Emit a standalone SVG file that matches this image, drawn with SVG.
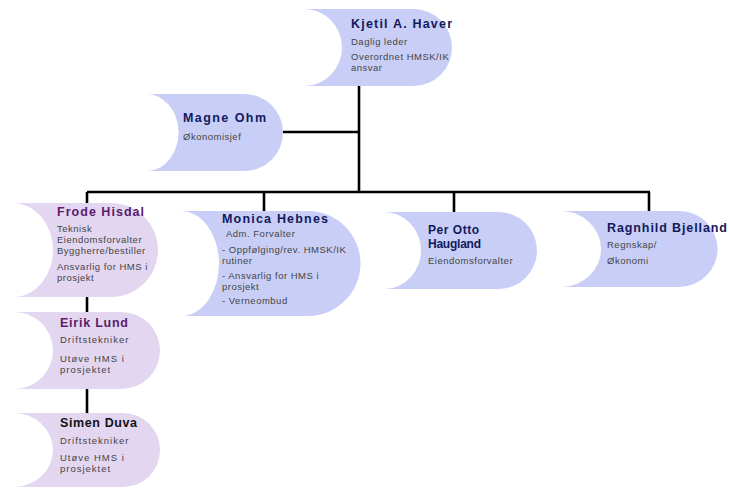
<svg xmlns="http://www.w3.org/2000/svg" width="729" height="488" viewBox="0 0 729 488">
<style>
.blue{fill:#c8cef6}
.purple{fill:#e3d6f1}
.name{font-family:"Liberation Sans",Arial,sans-serif;font-weight:bold;font-size:12.5px;letter-spacing:1px}
.nb{fill:#121a5c}
.np{fill:#5c1b6b}
.nk{fill:#111111}
.t{font-family:"Liberation Sans",Arial,sans-serif;font-size:9.5px;letter-spacing:0.5px;fill:#454545}
.w{letter-spacing:1px}
.c{stroke:#000;stroke-width:2.6;fill:none}
</style>
<rect width="729" height="488" fill="#fff"/>
<g id="connectors">
<path class="c" d="M359 86 V193"/>
<path class="c" d="M283 132 H359"/>
<path class="c" d="M87 192 H650"/>
<path class="c" d="M87 192 V203"/>
<path class="c" d="M264 192 V211"/>
<path class="c" d="M454 192 V212"/>
<path class="c" d="M649 192 V211"/>
<path class="c" d="M87 297 V312"/>
<path class="c" d="M87 389 V413"/>
</g>
<g id="kjetil">
<path class="blue" d="M303 9 H413.5 A38.5 38.5 0 0 1 413.5 86 H305 A38 38.5 0 0 0 303 9 Z"/>
<text class="name nb" x="351" y="28" textLength="102">Kjetil A. Haver</text>
<text class="t" x="351" y="45">Daglig leder</text>
<text class="t" x="351" y="60">Overordnet HMSK/IK</text>
<text class="t" x="351" y="71">ansvar</text>
</g>
<g id="magne">
<path class="blue" d="M145 94 H244.5 A38.5 38.5 0 0 1 244.5 171 H148 A32 38.5 0 0 0 145 94 Z"/>
<text class="name nb" x="183" y="122" textLength="84">Magne Ohm</text>
<text class="t" x="183" y="140">Økonomisjef</text>
</g>
<g id="frode">
<path class="purple" d="M12 203 H111 A47 47 0 0 1 111 297 H14 A40 47 0 0 0 12 203 Z"/>
<text class="name np" x="57" y="216" textLength="88">Frode Hisdal</text>
<text class="t" x="57" y="232">Teknisk</text>
<text class="t" x="57" y="243">Eiendomsforvalter</text>
<text class="t" x="57" y="254">Byggherre/bestiller</text>
<text class="t" x="57" y="270">Ansvarlig for HMS i</text>
<text class="t" x="57" y="281">prosjekt</text>
</g>
<g id="monica">
<path class="blue" d="M180 211 H308 A52.5 52.5 0 0 1 308 316 H182 A38 52.5 0 0 0 180 211 Z"/>
<text class="name nb" x="222" y="223" textLength="107">Monica Hebnes</text>
<text class="t" x="226" y="237">Adm. Forvalter</text>
<text class="t" x="222" y="253">- Oppfølging/rev. HMSK/IK</text>
<text class="t" x="222" y="264">rutiner</text>
<text class="t" x="222" y="279">- Ansvarlig for HMS i</text>
<text class="t" x="222" y="290">prosjekt</text>
<text class="t" x="222" y="304">- Verneombud</text>
</g>
<g id="perotto">
<path class="blue" d="M383 212 H498.5 A38.5 38.5 0 0 1 498.5 289 H385 A37 38.5 0 0 0 383 212 Z"/>
<text class="name nb" x="428" y="234" textLength="52" style="font-size:12px">Per Otto</text>
<text class="name nb" x="428" y="248" textLength="54" style="font-size:12px">Haugland</text>
<text class="t" x="428" y="264">Eiendomsforvalter</text>
</g>
<g id="ragnhild">
<path class="blue" d="M560 211 H679.5 A38 38 0 0 1 679.5 287 H562 A40 38 0 0 0 560 211 Z"/>
<text class="name nb" x="607" y="232" textLength="121">Ragnhild Bjelland</text>
<text class="t" x="607" y="248">Regnskap/</text>
<text class="t" x="607" y="264">Økonomi</text>
</g>
<g id="eirik">
<path class="purple" d="M13 312 H121.5 A38.5 38.5 0 0 1 121.5 389 H15 A39 38.5 0 0 0 13 312 Z"/>
<text class="name np" x="60" y="327" textLength="69">Eirik Lund</text>
<text class="t w" x="60" y="343">Driftstekniker</text>
<text class="t w" x="60" y="362">Utøve HMS i</text>
<text class="t w" x="60" y="373">prosjektet</text>
</g>
<g id="simen">
<path class="purple" d="M13 413 H123 A37 37 0 0 1 123 487 H15 A39 37 0 0 0 13 413 Z"/>
<text class="name nk" x="60" y="427" textLength="78">Simen Duva</text>
<text class="t w" x="60" y="444">Driftstekniker</text>
<text class="t w" x="60" y="461">Utøve HMS i</text>
<text class="t w" x="60" y="472">prosjektet</text>
</g>
</svg>
